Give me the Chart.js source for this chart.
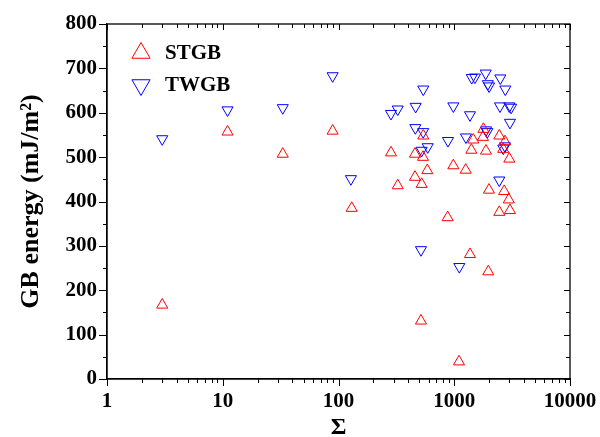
<!DOCTYPE html>
<html>
<head>
<meta charset="utf-8">
<script src="https://cdn.jsdelivr.net/npm/chart.js@4"></script>
<style>
  html, body { margin: 0; padding: 0; background: #fff; }
  #wrap { width: 600px; height: 437px; }
</style>
</head>
<body>
<div id="wrap"><canvas id="chart" width="600" height="437"></canvas></div>
<script>
// values
const stgbSigma = [3, 11, 33, 89, 130, 284, 325, 458, 540, 537, 458, 523, 585, 982, 1256, 1460, 1405, 1880, 1786, 1770, 2450, 2744, 2650, 2990, 1995, 2700, 2960, 2450, 3030, 877, 1368, 1968, 516, 1099];
const stgbEnergy = [167, 557, 507, 559, 385, 510, 436, 507, 548, 500, 455, 439, 470, 481, 471, 539, 516, 514, 563, 545, 548, 535, 518, 496, 426, 423, 404, 376, 380, 364, 281, 242, 131, 39];

const twgbSigma = [3, 11, 33, 89, 128, 284, 325, 464, 540, 461, 539, 590, 523, 982, 883, 1368, 1262, 1416, 1510, 1870, 1950, 2000, 2500, 2762, 2484, 2990, 3100, 3030, 1880, 1930, 2744, 2650, 2450, 516, 1106];
const twgbEnergy = [541, 606, 611, 683, 451, 598, 608, 614, 653, 566, 557, 523, 515, 615, 537, 595, 545, 679, 680, 689, 665, 660, 678, 653, 615, 615, 612, 578, 561, 557, 525, 520, 448, 291, 253];

const seriesNames = ['STGB', 'TWGB'];
const seriesColors = ['#ff0000', '#0000ff'];
const xTickValues = [1, 10, 100, 1000, 10000];
const yTickValues = [0, 100, 200, 300, 400, 500, 600, 700, 800];

const serif = "'Liberation Serif', 'Times New Roman', serif";

function pairs(xs, ys) {
  return xs.map((x, i) => ({x: x, y: ys[i]}));
}

// box round the plot with ticks on all four sides
const frameTicks = {
  id: 'frameTicks',
  afterDraw(chart) {
    const ctx = chart.ctx;
    const a = chart.chartArea;
    const xs = chart.scales.x;
    const ys = chart.scales.y;
    ctx.save();
    ctx.strokeStyle = '#000';
    ctx.lineWidth = 1.3;
    ctx.strokeRect(a.left, a.top, a.right - a.left, a.bottom - a.top);
    ctx.lineWidth = 1;
    ctx.beginPath();
    for (let d = 0; d < xTickValues.length; d++) {
      const dec = xTickValues[d];
      const px = Math.round(xs.getPixelForValue(dec)) + 0.5;
      ctx.moveTo(px, a.bottom); ctx.lineTo(px, a.bottom + 7);
      ctx.moveTo(px, a.top); ctx.lineTo(px, a.top + 6);
      if (d === xTickValues.length - 1) break;
      for (let k = 2; k < 10; k++) {
        const mx = Math.round(xs.getPixelForValue(dec * k)) + 0.5;
        ctx.moveTo(mx, a.bottom); ctx.lineTo(mx, a.bottom + 4);
        ctx.moveTo(mx, a.top); ctx.lineTo(mx, a.top + 4);
      }
    }
    for (let i = 0; i < yTickValues.length; i++) {
      const v = yTickValues[i];
      const py = Math.round(ys.getPixelForValue(v)) + 0.5;
      ctx.moveTo(a.left - 8, py); ctx.lineTo(a.left, py);
      ctx.moveTo(a.right, py); ctx.lineTo(a.right - 6, py);
      if (i < yTickValues.length - 1) {
        const my = Math.round(ys.getPixelForValue(v + 50)) + 0.5;
        ctx.moveTo(a.left - 4, my); ctx.lineTo(a.left, my);
        ctx.moveTo(a.right, my); ctx.lineTo(a.right - 4, my);
      }
    }
    ctx.stroke();

    // legend in the top left corner
    ctx.font = 'bold 21px ' + serif;
    ctx.textBaseline = 'middle';
    chart.data.datasets.forEach((ds, i) => {
      const lx = a.left + 34;
      const ly = a.top + 29 + i * 32;
      ctx.strokeStyle = ds.borderColor;
      ctx.fillStyle = 'rgba(0,0,0,0)';
      ctx.lineWidth = 1;
      Chart.helpers.drawPoint(ctx, {pointStyle: 'triangle', radius: 10.5, rotation: ds.pointRotation, borderWidth: 1}, lx, ly);
      ctx.fillStyle = '#000';
      ctx.fillText(ds.label, lx + 24, ly + 1);
    });
    ctx.restore();
  }
};

const ctx = document.getElementById('chart');
new Chart(ctx, {
  type: 'scatter',
  data: {
    datasets: [{
      label: seriesNames[0],
      data: pairs(stgbSigma, stgbEnergy),
      borderColor: seriesColors[0],
      backgroundColor: 'rgba(0,0,0,0)',
      pointStyle: 'triangle',
      pointRotation: 0,
      pointRadius: 6.4,
      pointBorderWidth: 1
    }, {
      label: seriesNames[1],
      data: pairs(twgbSigma, twgbEnergy),
      borderColor: seriesColors[1],
      backgroundColor: 'rgba(0,0,0,0)',
      pointStyle: 'triangle',
      pointRotation: 180,
      pointRadius: 6.4,
      pointBorderWidth: 1
    }]
  },
  options: {
    responsive: false,
    animation: false,
    layout: { padding: { top: 24, right: 30, left: 0, bottom: 0 } },
    plugins: {
      legend: { display: false },
      tooltip: { enabled: false }
    },
    scales: {
      x: {
        type: 'logarithmic',
        min: 1,
        max: 10000,
        afterBuildTicks: (scale) => {
          scale.ticks = xTickValues.map(v => ({value: v, major: true}));
        },
        afterFit: (scale) => {
          scale.height = 58;
          scale.paddingLeft = 0;
          scale.paddingRight = 0;
        },
        grid: { drawOnChartArea: false, tickLength: 7, color: 'rgba(0,0,0,0)' },
        border: { display: true, color: '#000', width: 1.3 },
        ticks: {
          autoSkip: false,
          maxRotation: 0,
          padding: 3,
          color: '#000',
          font: { family: serif, size: 21, weight: 'bold' },
          callback: (v) => String(v)
        },
        title: {
          display: true,
          text: 'Σ',
          color: '#000',
          padding: 0,
          font: { family: serif, size: 24, weight: 'bold', lineHeight: 0.8 }
        }
      },
      y: {
        min: 0,
        max: 800,
        afterBuildTicks: (scale) => {
          scale.ticks = yTickValues.map(v => ({value: v}));
        },
        afterFit: (scale) => {
          scale.width = 107;
          scale.paddingTop = 0;
          scale.paddingBottom = 0;
        },
        grid: { drawOnChartArea: false, tickLength: 8, color: 'rgba(0,0,0,0)' },
        border: { display: true, color: '#000', width: 1.3 },
        ticks: {
          padding: 2,
          color: '#000',
          font: { family: serif, size: 21, weight: 'bold' }
        },
        title: {
          display: true,
          text: 'GB energy (mJ/m²)',
          color: '#000',
          padding: { top: 16, bottom: 0 },
          font: { family: serif, size: 26, weight: 'bold' }
        }
      }
    }
  },
  plugins: [frameTicks]
});
</script>
</body>
</html>
